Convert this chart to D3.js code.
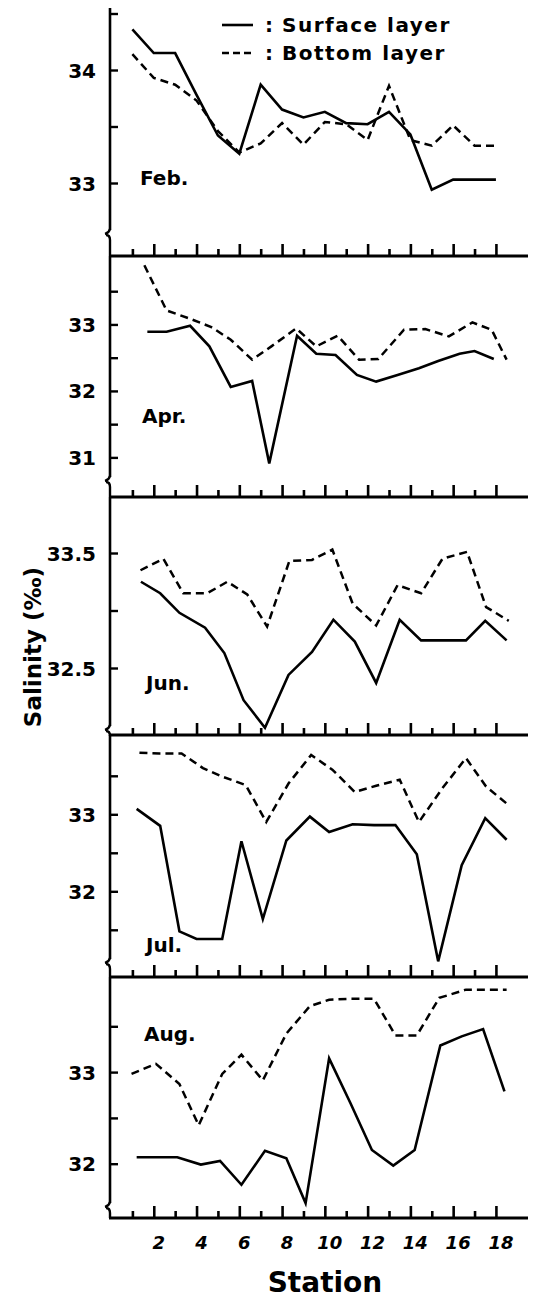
<!DOCTYPE html>
<html>
<head>
<meta charset="utf-8">
<script src="https://cdn.jsdelivr.net/npm/d3@7"></script>
<style>
  html, body { margin: 0; padding: 0; background: #fff; }
  svg { display: block; }
  text { font-family: "DejaVu Sans", sans-serif; font-weight: bold; fill: #000; }
</style>
</head>
<body>
<svg id="chart" width="534" height="1298"></svg>
<script>
// ---------------- DATA ----------------
const months = ["Feb.", "Apr.", "Jun.", "Jul.", "Aug."];
const stationTicks = [1,2,3,4,5,6,7,8,9,10,11,12,13,14,15,16,17,18];
const stationLabels = [2,4,6,8,10,12,14,16,18];

const febX = [1,2,3,4,5,6,7,8,9,10,11,12,13,14,15,16,17,18];
const febSurface = [34.36,34.15,34.15,33.78,33.42,33.26,33.87,33.65,33.58,33.63,33.53,33.52,33.63,33.43,32.94,33.03,33.03,33.03];
const febBottom  = [34.14,33.93,33.87,33.73,33.46,33.27,33.35,33.53,33.34,33.54,33.52,33.38,33.86,33.38,33.33,33.51,33.33,33.33];

const aprSurfaceX = [1.7,2.6,3.7,4.6,5.6,6.6,7.4,8.7,9.6,10.5,11.5,12.4,13.4,14.4,15.3,16.3,17.0,17.9];
const aprSurface  = [32.89,32.89,32.98,32.67,32.06,32.15,30.91,32.83,32.56,32.54,32.24,32.14,32.24,32.34,32.45,32.56,32.60,32.48];
const aprBottomX  = [1.56,2.6,3.66,4.69,5.6,6.6,7.5,8.66,9.6,10.6,11.6,12.5,13.7,14.7,15.8,16.9,17.8,18.5];
const aprBottom   = [33.89,33.21,33.09,32.96,32.77,32.47,32.67,32.94,32.67,32.83,32.47,32.48,32.92,32.93,32.82,33.03,32.92,32.47];

const junSurfaceX = [1.4,2.3,3.2,4.4,5.3,6.2,7.2,8.3,9.4,10.4,11.4,12.4,13.5,14.5,15.5,16.6,17.5,18.5];
const junSurface  = [33.25,33.15,32.98,32.85,32.63,32.22,31.98,32.44,32.64,32.92,32.73,32.37,32.92,32.74,32.74,32.74,32.91,32.74];
const junBottomX  = [1.38,2.45,3.38,4.5,5.44,6.37,7.3,8.34,9.4,10.35,11.3,12.4,13.4,14.5,15.5,16.65,17.54,18.6];
const junBottom   = [33.35,33.45,33.15,33.15,33.25,33.14,32.86,33.43,33.44,33.53,33.06,32.87,33.22,33.15,33.45,33.51,33.03,32.91];

const julSurfaceX = [1.2,2.3,3.2,4.0,5.2,6.1,7.1,8.2,9.3,10.2,11.3,12.3,13.3,14.3,15.3,16.4,17.5,18.5];
const julSurface  = [33.07,32.85,31.48,31.38,31.38,32.65,31.64,32.66,32.97,32.77,32.87,32.86,32.86,32.48,31.09,32.34,32.95,32.67];
const julBottomX  = [1.33,2.26,3.3,4.3,5.2,6.3,7.26,8.3,9.36,10.35,11.4,12.4,13.5,14.4,15.5,16.6,17.54,18.5];
const julBottom   = [33.80,33.79,33.79,33.60,33.49,33.38,32.90,33.40,33.77,33.58,33.29,33.37,33.45,32.90,33.34,33.73,33.36,33.14];

const augSurfaceX = [1.2,2.2,3.1,4.2,5.1,6.1,7.2,8.2,9.1,10.2,11.2,12.2,13.2,14.2,15.4,16.4,17.4,18.4];
const augSurface  = [32.07,32.07,32.07,31.99,32.03,31.77,32.14,32.06,31.57,33.15,32.66,32.15,31.98,32.15,33.29,33.39,33.47,32.79];
const augBottomX  = [0.96,2.1,3.2,4.1,5.2,6.1,7.1,8.2,9.3,10.2,11.2,12.3,13.3,14.3,15.35,16.6,17.5,18.5];
const augBottom   = [32.98,33.09,32.87,32.42,32.98,33.19,32.91,33.42,33.72,33.79,33.80,33.80,33.40,33.40,33.81,33.90,33.90,33.90];

const febTicks = [33,33.5,34,34.5], febTickLabels = [33,34];
const aprTicks = [31,31.5,32,32.5,33,33.5], aprTickLabels = [31,32,33];
const junTicks = [32.5,33,33.5], junTickLabels = [32.5,33.5];
const julTicks = [31.5,32,32.5,33,33.5], julTickLabels = [32,33];
const augTicks = [32,32.5,33,33.5], augTickLabels = [32,33];

const legendLabels = ["Surface layer", "Bottom layer"];
const xTitle = "Station";
const yTitle = "Salinity (‰)";

// ---------------- LAYOUT ----------------
const axisX = 110;
const x = d3.scaleLinear().domain([0, 19.5]).range([111, 528]);

const panels = [
  {name: months[0], sx: febX, s: febSurface, bx: febX, b: febBottom, ticks: febTicks, labels: febTickLabels,
   dom: [33, 34], rng: [183, 70], top: 8, bottom: 256, brk: 233, lab: [140, 185]},
  {name: months[1], sx: aprSurfaceX, s: aprSurface, bx: aprBottomX, b: aprBottom, ticks: aprTicks, labels: aprTickLabels,
   dom: [31, 33.5], rng: [457.4, 291.2], top: 256, bottom: 497, brk: 480, lab: [142, 423]},
  {name: months[2], sx: junSurfaceX, s: junSurface, bx: junBottomX, b: junBottom, ticks: junTicks, labels: junTickLabels,
   dom: [32.5, 33.5], rng: [668, 553], top: 497, bottom: 735, brk: 729, lab: [146, 690]},
  {name: months[3], sx: julSurfaceX, s: julSurface, bx: julBottomX, b: julBottom, ticks: julTicks, labels: julTickLabels,
   dom: [31.5, 33.5], rng: [929.8, 775.8], top: 735, bottom: 977, brk: 962, lab: [146, 952]},
  {name: months[4], sx: augSurfaceX, s: augSurface, bx: augBottomX, b: augBottom, ticks: augTicks, labels: augTickLabels,
   dom: [32, 33.5], rng: [1163.7, 1026.3], top: 977, bottom: 1218, brk: 1206, lab: [144, 1041]}
];

const svg = d3.select("#chart");
const ink = "#000";

panels.forEach((p, i) => {
  const y = d3.scaleLinear().domain(p.dom).range(p.rng);
  const g = svg.append("g");

  // y axis line (with break near bottom)
  g.append("line").attr("x1", axisX).attr("x2", axisX)
    .attr("y1", p.top).attr("y2", p.brk - 3)
    .attr("stroke", ink).attr("stroke-width", 2.6);
  g.append("path")
    .attr("d", `M${axisX},${p.brk-4} q-1,4 -5,5 M${axisX-4},${p.brk+2} q4,0 4,5 L${axisX},${p.bottom}`)
    .attr("fill", "none").attr("stroke", ink).attr("stroke-width", 2.4);

  // y ticks
  const yAxis = d3.axisRight(y).tickValues(p.ticks).tickSize(8).tickFormat("");
  const ya = g.append("g").attr("transform", `translate(${axisX},0)`).call(yAxis);
  ya.select(".domain").remove();
  ya.selectAll(".tick line").attr("stroke", ink).attr("stroke-width", 2.4);

  // y tick labels
  g.selectAll(".ylab").data(p.labels).enter().append("text")
    .attr("x", 96).attr("y", d => y(d) + 7.5)
    .attr("text-anchor", "end").attr("font-size", 20)
    .text(d => d3.format(d % 1 ? ".1f" : "d")(d));

  // x axis (bottom of the panel)
  g.append("line").attr("x1", axisX - 1).attr("x2", 528)
    .attr("y1", p.bottom).attr("y2", p.bottom)
    .attr("stroke", ink).attr("stroke-width", 3);
  const xa = g.append("g").attr("transform", `translate(0,${p.bottom})`)
    .call(d3.axisTop(x).tickValues(stationTicks).tickSize(0).tickFormat(""));
  xa.select(".domain").remove();
  xa.selectAll(".tick line")
    .attr("y2", d => d % 2 === 0 ? -12 : -7)
    .attr("stroke", ink).attr("stroke-width", 2.6);

  // lines
  const lineS = d3.line().x(d => x(d[0])).y(d => y(d[1]));
  g.append("path").datum(p.sx.map((v, k) => [v, p.s[k]]))
    .attr("d", lineS).attr("fill", "none").attr("stroke", ink)
    .attr("stroke-width", 2.6).attr("stroke-linejoin", "miter");
  g.append("path").datum(p.bx.map((v, k) => [v, p.b[k]]))
    .attr("d", lineS).attr("fill", "none").attr("stroke", ink)
    .attr("stroke-width", 2.5).attr("stroke-dasharray", "8,5");

  // month label
  g.append("text").attr("x", p.lab[0]).attr("y", p.lab[1])
    .attr("font-size", 20).text(p.name);
});

// bottom station labels
const last = panels[panels.length - 1];
svg.selectAll(".xlab").data(stationLabels).enter().append("text")
  .attr("x", d => x(d) + 5).attr("y", 1249)
  .attr("text-anchor", "middle").attr("font-size", 18)
  .attr("font-style", "italic")
  .text(d => d);

svg.append("text").attr("x", 325).attr("y", 1292)
  .attr("text-anchor", "middle").attr("font-size", 28).text(xTitle);

svg.append("text")
  .attr("transform", "translate(41,647) rotate(-90)")
  .attr("text-anchor", "middle").attr("font-size", 23).text(yTitle);

// legend
const leg = svg.append("g");
[0, 1].forEach(k => {
  const ly = 25 + k * 28;
  leg.append("line").attr("x1", 222).attr("x2", 253).attr("y1", ly).attr("y2", ly)
    .attr("stroke", ink).attr("stroke-width", 2.6)
    .attr("stroke-dasharray", k ? "7,4" : null);
  leg.append("text").attr("x", 265).attr("y", ly + 7).attr("font-size", 20).text(":");
  leg.append("text").attr("x", 282).attr("y", ly + 7).attr("font-size", 20)
    .attr("letter-spacing", 1.5).text(legendLabels[k]);
});
</script>
</body>
</html>
